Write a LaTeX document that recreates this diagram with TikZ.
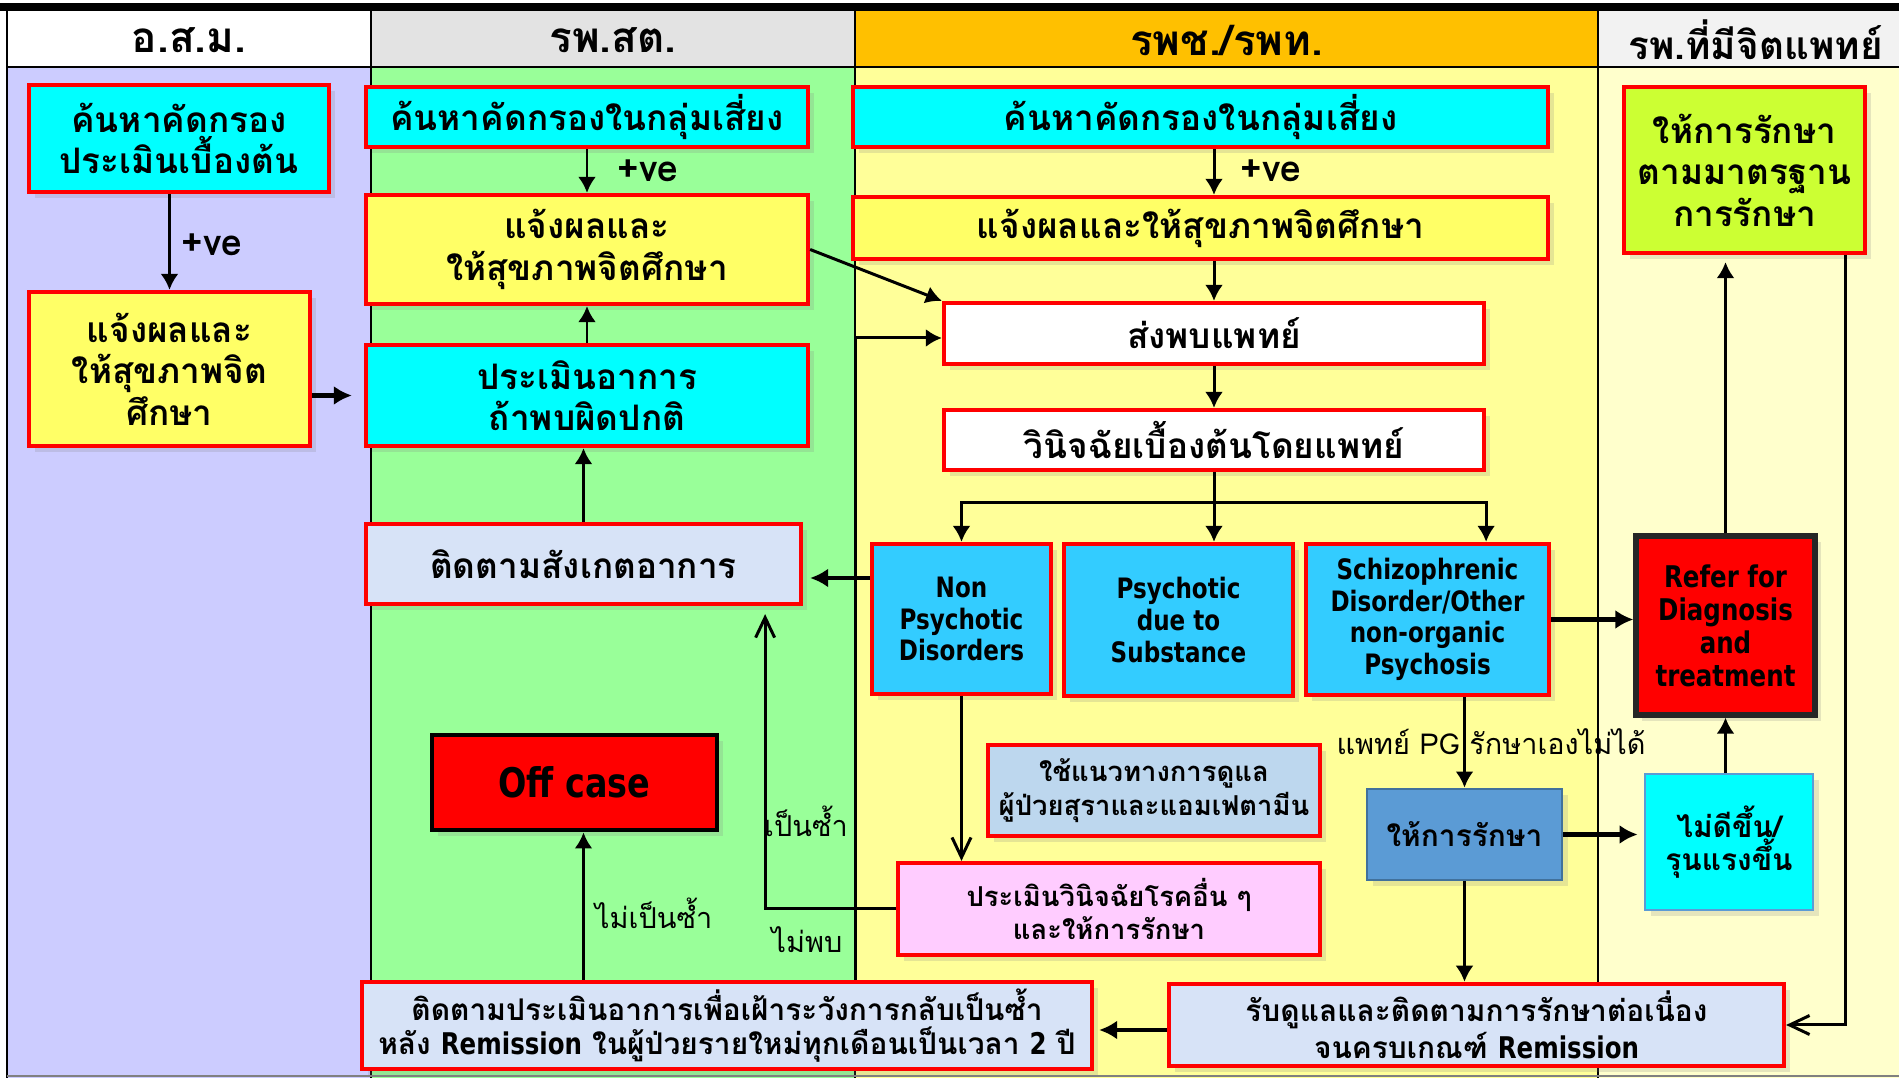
\documentclass[tikz,border=0pt]{standalone}
\usepackage{fontspec}
\setmainfont[Script=Thai]{Loma}
\newfontfamily\latinfont[FakeStretch=0.82]{DejaVu Sans}
\usetikzlibrary{arrows.meta,calc,shadows}

\definecolor{lavender}{HTML}{CCCCFF}
\definecolor{mint}{HTML}{99FF99}
\definecolor{paleyellow}{HTML}{FFFF99}
\definecolor{creamy}{HTML}{FFFFCC}
\definecolor{headgray}{HTML}{E3E3E3}
\definecolor{headlight}{HTML}{F2F2F2}
\definecolor{gold}{HTML}{FFC000}
\definecolor{cyanbox}{HTML}{00FFFF}
\definecolor{yellowbox}{HTML}{FFFF66}
\definecolor{paleblue}{HTML}{D7E3F7}
\definecolor{skyblue}{HTML}{33CCFF}
\definecolor{steel}{HTML}{BDD7EE}
\definecolor{pinkbox}{HTML}{FFCCFF}
\definecolor{medblue}{HTML}{5B9BD5}
\definecolor{bluegray}{HTML}{41719C}
\definecolor{lime}{HTML}{CCFF33}

\tikzstyle{box} = [draw=red, line width=1.2pt, align=center, inner sep=2pt,
	drop shadow={shadow xshift=0.6mm, shadow yshift=-0.6mm, opacity=0.2},
	font=\fontsize{10}{11.8}\selectfont\bfseries]
\tikzstyle{engbox} = [box, font=\latinfont\fontsize{8}{9}\selectfont\bfseries]
\tikzstyle{smallbox} = [box, font=\fontsize{8.5}{9.5}\selectfont\bfseries]
\tikzstyle{head} = [font=\fontsize{12}{14}\selectfont\bfseries]
\tikzstyle{plus} = [font=\fontsize{10.5}{12}\selectfont\bfseries]
\tikzstyle{note} = [font=\fontsize{8.2}{9}\selectfont, inner sep=1pt]
\tikzstyle{line} = [draw, line width=0.85pt, -{Latex[length=1.6mm,width=1.8mm]}]
\tikzstyle{thickline} = [draw, line width=1.3pt, -{Latex[length=1.8mm,width=1.9mm]}]
\tikzstyle{openline} = [draw, line width=0.85pt, -{Straight Barb[length=2mm,width=1.9mm]}]

\begin{document}
\begin{tikzpicture}
			\useasboundingbox (0,0) rectangle (18.99,-10.78);
			\fill [white] (0,0) rectangle (18.99,-10.78);
			
			\foreach \xa/\xb/\hc/\bc in {0.07/3.71/white/lavender, 3.71/8.55/headgray/mint,
				8.55/15.98/gold/paleyellow, 15.98/18.99/headlight/creamy}{
				\fill [\hc] (\xa,-0.09) rectangle (\xb,-0.67);
				\fill [\bc] (\xa,-0.67) rectangle (\xb,-10.78);
				\draw [line width=0.8pt] (\xa,-0.09) -- (\xa,-10.78);
			}
			\draw [line width=2.2pt] (0,-0.07) -- (18.99,-0.07);
			\draw [line width=0.7pt] (0.07,-0.67) -- (18.99,-0.67);
			\draw [gray, line width=0.6pt] (0.07,-10.76) -- (18.99,-10.76);
			
			\node [head] (H1) at (1.89,-0.40) {อ.ส.ม.};
			\node [head] (H2) at (6.13,-0.40) {รพ.สต.};
			\node [head] (H3) at (12.265,-0.40) {รพช./รพท.};
			\node [head, anchor=west, font=\fontsize{11}{13}\selectfont\bfseries] (H4) at (16.16,-0.40) {รพ.ที่มีจิตแพทย์};
			
			\node [box, fill=cyanbox, minimum width=3.00cm, minimum height=1.07cm] (A1) at (1.79,-1.385) {ค้นหาคัดกรอง\\ประเมินเบื้องต้น};
			\node [box, fill=yellowbox, minimum width=2.81cm, minimum height=1.54cm] (A2) at (1.695,-3.69) {แจ้งผลและ\\ให้สุขภาพจิต\\ศึกษา};
			
			\node [box, fill=cyanbox, minimum width=4.42cm, minimum height=0.60cm] (B1) at (5.87,-1.17) {ค้นหาคัดกรองในกลุ่มเสี่ยง};
			\node [box, fill=yellowbox, minimum width=4.42cm, minimum height=1.09cm] (B2) at (5.87,-2.495) {แจ้งผลและ\\ให้สุขภาพจิตศึกษา};
			\node [box, fill=cyanbox, minimum width=4.42cm, minimum height=1.01cm] (B3) at (5.87,-3.955) {ประเมินอาการ\\ถ้าพบผิดปกติ};
			\node [box, fill=paleblue, minimum width=4.35cm, minimum height=0.80cm] (B4) at (5.835,-5.64) {ติดตามสังเกตอาการ};
			\node [box, draw=black, line width=1.4pt, fill=red, minimum width=2.85cm, minimum height=0.95cm, font=\latinfont\fontsize{11.6}{13}\selectfont\bfseries] (Off) at (5.745,-7.825) {Off case};
			\node [smallbox, fill=paleblue, minimum width=7.30cm, minimum height=0.83cm] (B5) at (7.27,-10.255) {ติดตามประเมินอาการเพื่อเฝ้าระวังการกลับเป็นซ้ำ\\หลัง {\latinfont Remission} ในผู้ป่วยรายใหม่ทุกเดือนเป็นเวลา {\latinfont 2} ปี};
			
			\node [box, fill=cyanbox, minimum width=6.95cm, minimum height=0.60cm] (C1) at (12.005,-1.17) {ค้นหาคัดกรองในกลุ่มเสี่ยง};
			\node [box, fill=yellowbox, minimum width=6.95cm, minimum height=0.62cm] (C2) at (12.005,-2.28) {แจ้งผลและให้สุขภาพจิตศึกษา};
			\node [box, fill=white, minimum width=5.40cm, minimum height=0.61cm] (C3) at (12.14,-3.335) {ส่งพบแพทย์};
			\node [box, fill=white, minimum width=5.40cm, minimum height=0.60cm] (C4) at (12.14,-4.40) {วินิจฉัยเบื้องต้นโดยแพทย์};
			\node [engbox, fill=skyblue, minimum width=1.79cm, minimum height=1.50cm] (C5) at (9.615,-6.19) {Non\\Psychotic\\Disorders};
			\node [engbox, fill=skyblue, minimum width=2.29cm, minimum height=1.52cm] (C6) at (11.785,-6.20) {Psychotic\\due to\\Substance};
			\node [engbox, fill=skyblue, minimum width=2.43cm, minimum height=1.51cm] (C7) at (14.275,-6.195) {Schizophrenic\\Disorder/Other\\non-organic\\Psychosis};
			\node [smallbox, fill=steel, minimum width=3.32cm, minimum height=0.91cm, font=\fontsize{7.8}{9.5}\selectfont\bfseries] (C8) at (11.54,-7.905) {ใช้แนวทางการดูแล\\ผู้ป่วยสุราและแอมเฟตามีน};
			\node [smallbox, fill=pinkbox, minimum width=4.22cm, minimum height=0.92cm, font=\fontsize{7.8}{9.3}\selectfont\bfseries] (C10) at (11.09,-9.09) {ประเมินวินิจฉัยโรคอื่น ๆ\\และให้การรักษา};
			\node [smallbox, draw=bluegray, line width=0.8pt, fill=medblue, minimum width=1.95cm, minimum height=0.91cm, drop shadow={opacity=0}] (C11) at (14.645,-8.345) {ให้การรักษา};
			\node [smallbox, fill=paleblue, minimum width=6.15cm, minimum height=0.82cm] (C9) at (14.765,-10.25) {รับดูแลและติดตามการรักษาต่อเนื่อง\\จนครบเกณฑ์ {\latinfont Remission}};
			
			\node [box, fill=lime, minimum width=2.41cm, minimum height=1.66cm] (D1) at (17.445,-1.70) {ให้การรักษา\\ตามมาตรฐาน\\การรักษา};
			\node [engbox, draw=black!85, line width=1.5pt, fill=red, minimum width=1.79cm, minimum height=1.79cm, font=\latinfont\fontsize{8.5}{9.4}\selectfont\bfseries] (D2) at (17.255,-6.255) {Refer for\\Diagnosis\\and\\treatment};
			\node [smallbox, draw=medblue, line width=0.8pt, fill=cyanbox, minimum width=1.68cm, minimum height=1.36cm] (D3) at (17.29,-8.42) {ไม่ดีขึ้น/\\รุนแรงขึ้น};
			
			\coordinate (split) at (12.14,-5.03);
			\coordinate (relapse) at (8.55,-3.38);
			
			\draw [line] (A1.south -| A2.north) -- (A2.north);
			\node [plus] (P1) at (2.12,-2.45) {+ve};
			\draw [thickline, shorten >=1.2mm] (A2.east |- B3.west) -- (B3.west);
			
			\draw [line] (B1) -- (B2);
			\node [plus] (P2) at (6.48,-1.71) {+ve};
			\draw [line] (B3) -- (B2);
			\draw [line] (B4.north) -- (B4.north |- B3.south);
			\draw [line] (B2.east) -- (C3.north west);
			\draw [line] (B5.north -| relapse) -- (relapse) -- (relapse -| C3.west);
			\node [note, anchor=east] (T2) at (8.52,-8.21) {เป็นซ้ำ};
			\draw [line] (B5.north -| B4.south) -- (Off.south -| B4.south);
			\node [note, anchor=west] (T1) at (5.91,-9.13) {ไม่เป็นซ้ำ};
			
			\draw [line] (C3.north |- C1.south) -- (C3.north |- C2.north);
			\node [plus] (P3) at (12.71,-1.71) {+ve};
			\draw [line] (C3.north |- C2.south) -- (C3.north);
			\draw [line] (C3) -- (C4);
			\draw [line width=0.85pt] (C4.south) -- (split);
			\draw [line] (split) -| (C5.north);
			\draw [line] (split) -- (split |- C6.north);
			\draw [line] (split) -| (C4.east |- C7.north);
			\draw [thickline, shorten >=0.7mm] ([yshift=-1.4mm]B4.east -| C5.west) -- ([yshift=-1.4mm]B4.east);
			\draw [openline] (C5.south) -- (C5.south |- C10.north);
			\draw [openline, shorten >=0.8mm] (C10.west) -| ([xshift=-3.8mm]B4.south east);
			\node [note] (T3) at (8.07,-9.40) {ไม่พบ};
			\draw [line] (C11.north |- C7.south) -- (C11.north);
			\node [note] (T4) at (14.91,-7.42) {แพทย์ PG รักษาเองไม่ได้};
			\draw [line] (C11.south) -- (C11.south |- C9.north);
			\draw [thickline, shorten >=0.5mm] ([yshift=-0.5mm]C9.west) -- ([yshift=-0.5mm]C9.west -| B5.east);
			
			\draw [thickline] (C7.east) -- (C7.east -| D2.west);
			\draw [thickline, shorten >=0.6mm] (C11.east) -- (C11.east -| D3.west);
			\draw [line] (D2.south |- D3.north) -- (D2.south);
			\draw [line, shorten >=0.7mm] (D2.north) -- (D2.north |- D1.south);
			\draw [openline] ([xshift=-2.2mm]D1.south east) |- (C9.east);
			
\end{tikzpicture}
\end{document}
